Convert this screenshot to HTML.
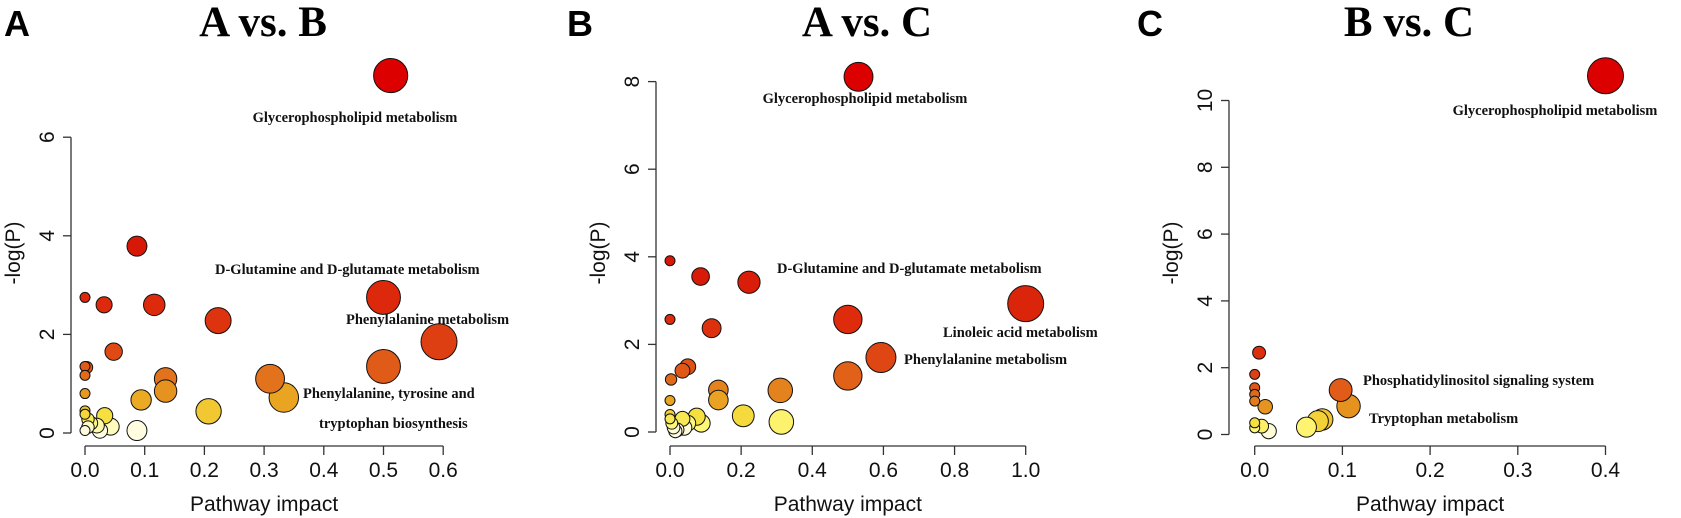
<!DOCTYPE html>
<html><head><meta charset="utf-8"><style>
html,body{margin:0;padding:0;background:#fff;}
svg{display:block;}
.tk{font-family:"Liberation Sans",Arial,sans-serif;font-size:21px;fill:#111;}
.lab{font-family:"Liberation Serif","Times New Roman",serif;font-weight:bold;font-size:14.5px;fill:#111;}
.ttl{font-family:"Liberation Serif","Times New Roman",serif;font-weight:bold;font-size:43px;fill:#000;}
.pl{font-family:"Liberation Sans",Arial,sans-serif;font-weight:bold;font-size:36px;fill:#000;}
</style></head><body>
<svg id="fig" width="1681" height="518" viewBox="0 0 1681 518" xmlns="http://www.w3.org/2000/svg"></svg>
<script>
// Panel A (A vs. B)
const impactA = [0.512,0.087,0,0.032,0.116,0.223,0.5,0.593,0.5,0.048,0.003,0,0,0,0.135,0.135,0.31,0.333,0.094,0.207,0.087,0.025,0,0.043,0.033,0,0,0.005,0.01,0.02,0.005];
const logpA   = [7.25,3.79,2.75,2.6,2.6,2.28,2.75,1.85,1.35,1.65,1.33,1.35,1.17,0.8,1.1,0.85,1.1,0.72,0.67,0.44,0.05,0.05,0.05,0.13,0.35,0.45,0.38,0.28,0.2,0.15,0.12];
const xTicksA = [0,0.1,0.2,0.3,0.4,0.5,0.6];
const yTicksA = [0,2,4,6];
// Panel B (A vs. C)
const impactB = [0.53,0,0.086,0.222,0,0.117,0.5,1.0,0.593,0.5,0.05,0.035,0.003,0,0.136,0.136,0.31,0.206,0.313,0.088,0.075,0.05,0.035,0,0,0.005,0.01,0.02,0.04,0.015];
const logpB   = [8.11,3.91,3.55,3.42,2.57,2.37,2.57,2.93,1.7,1.28,1.49,1.4,1.2,0.72,0.96,0.73,0.95,0.37,0.23,0.2,0.35,0.2,0.3,0.4,0.3,0.2,0.1,0.05,0.1,0.02];
const xTicksB = [0,0.2,0.4,0.6,0.8,1.0];
const yTicksB = [0,2,4,6,8];
// Panel C (B vs. C)
const impactC = [0.40,0.005,0,0,0,0,0.012,0.098,0.107,0.077,0.072,0.059,0.016,0,0,0.008];
const logpC   = [10.74,2.45,1.8,1.4,1.2,1.0,0.83,1.33,0.85,0.45,0.4,0.22,0.1,0.2,0.35,0.25];
const xTicksC = [0,0.1,0.2,0.3,0.4];
const yTicksC = [0,2,4,6,8,10];

const NS='http://www.w3.org/2000/svg';
const svg=document.getElementById('fig');
function mk(tag,attrs,parent,text){const e=document.createElementNS(NS,tag);for(const k in attrs)e.setAttribute(k,attrs[k]);if(text!==undefined)e.textContent=text;(parent||svg).appendChild(e);return e;}
const stops=[[0,'#fffbe6'],[0.1,'#fffcd8'],[0.2,'#fff77a'],[0.35,'#f5e040'],[0.45,'#f0c430'],[0.75,'#e8a020'],[1.0,'#e37c1c'],[1.35,'#e05a18'],[1.8,'#dd4012'],[2.6,'#dd2a0c'],[3.6,'#d81a08'],[6,'#dd0000']];
function hex(c){return [1,3,5].map(i=>parseInt(c.substr(i,2),16));}
function color(v){if(v>=6)return '#dd0000';for(let i=1;i<stops.length;i++){if(v<=stops[i][0]){const a=stops[i-1],b=stops[i];const t=(v-a[0])/(b[0]-a[0]);const ca=hex(a[1]),cb=hex(b[1]);return 'rgb('+ca.map((x,j)=>Math.round(x+(cb[j]-x)*t)).join(',')+')';}}return '#dd0000';}
function fmt(v){return v.toFixed(1);}

function panel(cfg,imp,lp,xt,yt){
  const g=mk('g',{});
  
  
  const X=v=>cfg.x0+v*cfg.xs, Y=v=>cfg.y0-v*cfg.ys;
  const pl=mk('text',{x:cfg.letterX,y:36,class:'pl'},g,cfg.letter);
  
  
  const tt=mk('text',{x:cfg.titleX,y:36,class:'ttl','text-anchor':'middle'},g,cfg.title);
  
  
  const xa=mk('g',{},g);
  
  
  mk('line',{x1:X(xt[0]),x2:X(xt[xt.length-1]),y1:446,y2:446,stroke:'#333','stroke-width':1.3},xa);
  xt.forEach(t=>{mk('line',{x1:X(t),x2:X(t),y1:446,y2:455,stroke:'#333','stroke-width':1.3},xa);
    const l=mk('text',{x:X(t),y:477,class:'tk','text-anchor':'middle'},xa,fmt(t));
    
    });
  const xtl=mk('text',{x:(X(xt[0])+X(xt[xt.length-1]))/2,y:511,class:'tk','text-anchor':'middle'},g,'Pathway impact');
  
  
  const ya=mk('g',{},g);
  
  
  mk('line',{x1:cfg.ax,x2:cfg.ax,y1:Y(yt[0]),y2:Y(yt[yt.length-1]),stroke:'#333','stroke-width':1.3},ya);
  yt.forEach(t=>{mk('line',{x1:cfg.ax-8,x2:cfg.ax,y1:Y(t),y2:Y(t),stroke:'#333','stroke-width':1.3},ya);
    const l=mk('text',{x:0,y:0,class:'tk','text-anchor':'middle',transform:'translate('+(cfg.ax-17)+','+Y(t)+') rotate(-90)'},ya,String(t));
    
    });
  const ytl=mk('text',{x:0,y:0,class:'tk','text-anchor':'middle',transform:'translate('+(cfg.ax-51)+',253) rotate(-90)'},g,'-log(P)');
  
  
  const mx=Math.max(...imp);
  const idx=imp.map((v,i)=>i).sort((a,b)=>imp[b]-imp[a]);
  idx.forEach(i=>{
    const r=5+13*Math.sqrt(imp[i]/mx);
    const c=mk('circle',{cx:X(imp[i]),cy:Y(lp[i]),r:r,fill:color(lp[i]),stroke:'#111','stroke-width':1},g);
    
    
  });
  cfg.labels.forEach(L=>{
    const t=mk('text',{x:L[1],y:L[2],class:'lab','text-anchor':L[3]||'start'},g,L[0]);
    
    
  });
}
panel({name:'panel-a',letter:'A',letterX:4,title:'A vs. B',titleX:263,x0:85,xs:597,y0:433,ys:49.3,ax:71,
  labels:[['Glycerophospholipid metabolism',355,122,'middle'],['D-Glutamine and D-glutamate metabolism',215,274],['Phenylalanine metabolism',346,324],['Phenylalanine, tyrosine and',303,398],['tryptophan biosynthesis',319,428]]},impactA,logpA,xTicksA,yTicksA);
panel({name:'panel-b',letter:'B',letterX:567,title:'A vs. C',titleX:867,x0:670,xs:355.7,y0:432,ys:43.8,ax:656,
  labels:[['Glycerophospholipid metabolism',865,103,'middle'],['D-Glutamine and D-glutamate metabolism',777,273],['Linoleic acid metabolism',943,337],['Phenylalanine metabolism',904,364]]},impactB,logpB,xTicksB,yTicksB);
panel({name:'panel-c',letter:'C',letterX:1137,title:'B vs. C',titleX:1409,x0:1254.7,xs:877,y0:434.5,ys:33.4,ax:1229,
  labels:[['Glycerophospholipid metabolism',1555,115,'middle'],['Phosphatidylinositol signaling system',1363,385],['Tryptophan metabolism',1369,423]]},impactC,logpC,xTicksC,yTicksC);
</script>
</body></html>
